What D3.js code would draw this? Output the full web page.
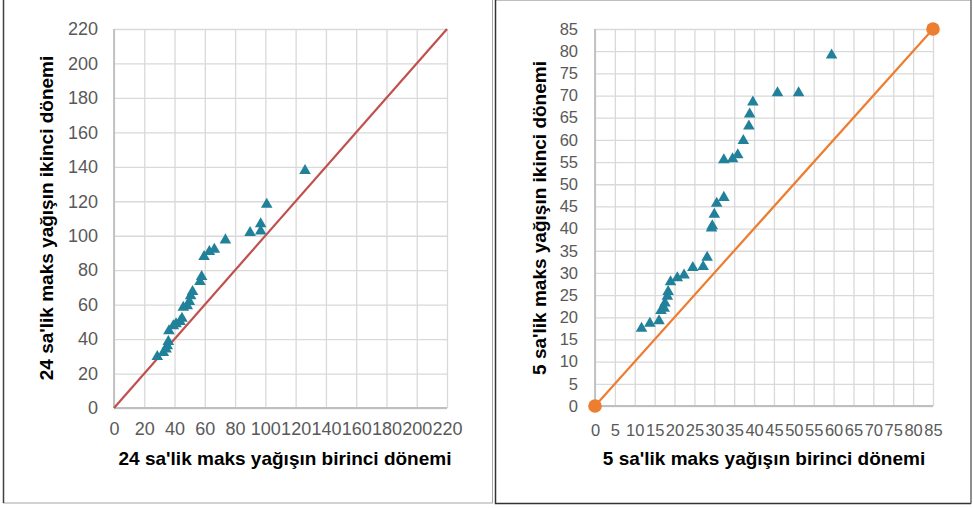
<!DOCTYPE html>
<html>
<head>
<meta charset="UTF-8">
<style>
    * { margin: 0; padding: 0; }
    body { background: #fff; width: 973px; height: 508px; overflow: hidden; }
    text { font-family: "Liberation Sans", Arial, sans-serif; }
    .grid line { stroke: #d9d9d9; stroke-width: 1.3; }
    .tick text { fill: #595959; }
    .title { font-weight: bold; fill: #000; }
</style>
<script src="https://d3js.org/d3.v7.min.js"></script>
<title>Maks yağış dönemleri</title>
</head>
<body>
<svg id="chart" width="973" height="508"></svg>
<script>
// 24 saatlik: birinci dönem (x) / ikinci dönem (y)
var x24 = [126.2, 100.9, 96.9, 96.9, 89.9, 73.6, 66.3, 63, 59.5, 57.9, 56.8, 51.9, 50.6,
           49.8, 48.4, 45.8, 44.9, 43.6, 41, 39.2, 36.3, 35.9, 35.2, 34.4, 32.6, 28.6];
var y24 = [137.7, 118.2, 106.8, 102.6, 101.8, 97.5, 92.1, 90.7, 87.8, 76.2, 73.3, 67.5, 65,
           61.7, 59.2, 58.4, 52, 50.1, 48.8, 47.6, 44.7, 38.5, 36, 34.1, 32.1, 29.8];

// 5 saatlik
var x5 = [59.5, 51.2, 45.9, 39.7, 38.9, 38.7, 37.3, 35.9, 34.6, 32.4, 32.4, 30.6, 30, 29.5,
          29.3, 28.2, 27.2, 24.6, 22.4, 20.7, 19, 18.4, 18.2, 17.6, 17.4, 16.6, 16.1, 13.8, 11.7];
var y5 = [79.1, 70.6, 70.6, 68.5, 65.8, 63.1, 59.8, 56.6, 55.7, 55.5, 47, 45.7, 43.2, 40.6,
          40.1, 33.5, 31.4, 31.2, 29.5, 28.9, 28, 25.8, 24.7, 23.2, 22, 21.5, 19.2, 18.6, 17.5];

var ticks24 = d3.range(0, 221, 20);
var ticks5 = d3.range(0, 86, 5);

var svg = d3.select("#chart");

// panel frames
svg.append("rect").attr("x", 3.5).attr("y", -2).attr("width", 489).attr("height", 505)
    .attr("fill", "none").attr("stroke", "#a6a6a6");
svg.append("line").attr("x1", 3.5).attr("x2", 3.5).attr("y1", 0).attr("y2", 503)
    .attr("stroke", "#404040").attr("stroke-width", 1.5);
svg.append("rect").attr("x", 495.5).attr("y", 0.5).attr("width", 475.5).attr("height", 503)
    .attr("fill", "none").attr("stroke", "#bfbfbf");
svg.append("path").attr("d", "M495.5,0 V503.5 H971")
    .attr("fill", "none").attr("stroke", "#333").attr("stroke-width", 1.5);
svg.append("line").attr("x1", 971).attr("x2", 971).attr("y1", 0).attr("y2", 503.5)
    .attr("stroke", "#595959").attr("stroke-width", 1.2);

function drawChart(cfg) {
    var x = d3.scaleLinear().domain([0, cfg.max]).range([cfg.left, cfg.right]);
    var y = d3.scaleLinear().domain([0, cfg.max]).range([cfg.bottom, cfg.top]);
    var g = svg.append("g");

    // gridlines
    g.append("g").attr("class", "grid")
        .attr("transform", "translate(0," + cfg.bottom + ")")
        .call(d3.axisBottom(x).tickValues(cfg.ticks).tickSize(cfg.top - cfg.bottom).tickFormat(""))
        .call(function (s) { s.select(".domain").remove(); });
    g.append("g").attr("class", "grid")
        .attr("transform", "translate(" + cfg.left + ",0)")
        .call(d3.axisLeft(y).tickValues(cfg.ticks).tickSize(cfg.left - cfg.right).tickFormat(""))
        .call(function (s) { s.select(".domain").remove(); });

    // axis lines
    g.append("line").attr("x1", cfg.left).attr("x2", cfg.right)
        .attr("y1", cfg.bottom).attr("y2", cfg.bottom)
        .attr("stroke", "#bfbfbf").attr("stroke-width", 1.8);
    g.append("line").attr("x1", cfg.left).attr("x2", cfg.left)
        .attr("y1", cfg.top).attr("y2", cfg.bottom)
        .attr("stroke", "#bfbfbf").attr("stroke-width", 1.8);

    // tick labels
    var xa = g.append("g").attr("transform", "translate(0," + cfg.bottom + ")")
        .call(d3.axisBottom(x).tickValues(cfg.ticks).tickSize(0).tickPadding(cfg.xPad));
    xa.select(".domain").remove();
    xa.selectAll("text").attr("font-size", cfg.tickFont).attr("font-family", cfg.tickFamily);
    var ya = g.append("g").attr("transform", "translate(" + cfg.left + ",0)")
        .call(d3.axisLeft(y).tickValues(cfg.ticks).tickSize(0).tickPadding(cfg.yPad));
    ya.select(".domain").remove();
    ya.selectAll("text").attr("font-size", cfg.tickFont).attr("font-family", cfg.tickFamily);

    // 1:1 line
    g.append("line")
        .attr("x1", x(0)).attr("y1", y(0))
        .attr("x2", x(cfg.max)).attr("y2", y(cfg.max))
        .attr("stroke", cfg.lineColor).attr("stroke-width", 2.2);
    if (cfg.endDots) {
        g.selectAll(".enddot").data([0, cfg.max]).enter().append("circle")
            .attr("cx", function (d) { return x(d); })
            .attr("cy", function (d) { return y(d); })
            .attr("r", 6.8).attr("fill", cfg.lineColor);
    }

    // points
    g.selectAll(".pt").data(cfg.xs).enter().append("path")
        .attr("transform", function (d, i) {
            return "translate(" + x(d) + "," + y(cfg.ys[i]) + ")";
        })
        .attr("d", d3.symbol().type(d3.symbolTriangle).size(58))
        .attr("fill", "#22819a");

    // titles
    g.append("text").attr("class", "title")
        .attr("x", cfg.xTitleX).attr("y", 465)
        .attr("text-anchor", "middle").attr("font-size", cfg.titleFont)
        .text(cfg.xTitle);
    g.append("text").attr("class", "title")
        .attr("transform", "translate(" + cfg.yTitleX + "," + 218 + ") rotate(-90)")
        .attr("text-anchor", "middle").attr("font-size", cfg.titleFont)
        .text(cfg.yTitle);
}

drawChart({
    xs: x24, ys: y24, max: 220, ticks: ticks24,
    left: 114, right: 447, top: 29, bottom: 408,
    lineColor: "#c0504d", endDots: false,
    tickFont: "18px", tickFamily: "'Liberation Sans', Arial, sans-serif", xPad: 14, yPad: 16,
    titleFont: "19px", xTitleX: 285, yTitleX: 53,
    xTitle: "24 sa'lik maks yağışın birinci dönemi",
    yTitle: "24 sa'lik maks yağışın ikinci dönemi"
});

drawChart({
    xs: x5, ys: y5, max: 85, ticks: ticks5,
    left: 595, right: 933, top: 29, bottom: 406,
    lineColor: "#ed7d31", endDots: true,
    tickFont: "16.5px", tickFamily: "'Liberation Sans', Arial, sans-serif", xPad: 18, yPad: 17,
    titleFont: "19px", xTitleX: 764, yTitleX: 546,
    xTitle: "5 sa'lik maks yağışın birinci dönemi",
    yTitle: "5 sa'lik maks yağışın ikinci dönemi"
});
</script>
</body>
</html>
